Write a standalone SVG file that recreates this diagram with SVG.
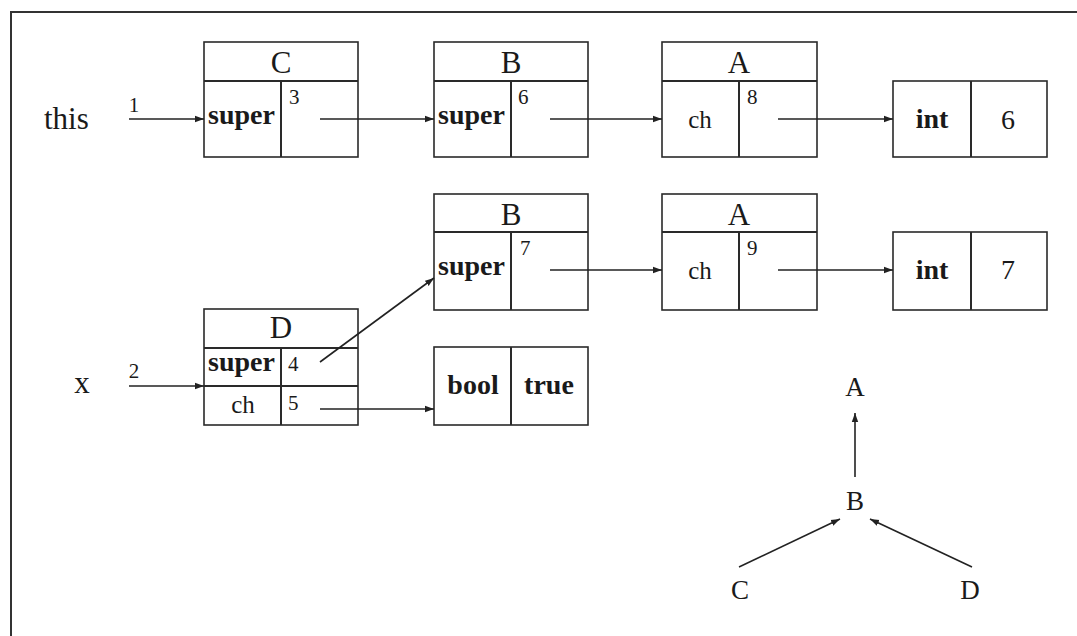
<svg xmlns="http://www.w3.org/2000/svg" width="1077" height="636" viewBox="0 0 1077 636">
  <defs>
    <marker id="arrow" markerWidth="10" markerHeight="8" refX="9" refY="4" orient="auto" markerUnits="userSpaceOnUse">
      <path d="M0,0.8 L9,4 L0,7.2 Z" fill="#222"/>
    </marker>
    <style>
      .box { fill: #fff; stroke: #2a2a2a; stroke-width: 1.6; }
      .div { stroke: #2a2a2a; stroke-width: 2; fill: none; }
      .txt { font-family: "Liberation Serif", "DejaVu Serif", serif; fill: #1a1a1a; }
      .big { font-size: 31px; }
      .tree { font-size: 27px; }
      .bold { font-size: 28px; font-weight: bold; }
      .val { font-size: 28px; }
      .num { font-size: 21px; }
      .reg { font-size: 25px; }
      .mid { text-anchor: middle; }
      .edge { stroke: #222; stroke-width: 1.6; fill: none; marker-end: url(#arrow); }
      .frame { stroke: #333; stroke-width: 2; fill: none; }
    </style>
  </defs>

  <rect width="1077" height="636" fill="#fff"/>

  <!-- frame: top and left rules only -->
  <path class="frame" d="M11,636 L11,12 L1077,12"/>

  <!-- variable labels -->
  <g id="var-this">
    <text class="txt big" x="44" y="129">this</text>
    <text class="txt num mid" x="134" y="112">1</text>
  </g>
  <g id="var-x">
    <text class="txt big mid" x="82" y="393">x</text>
    <text class="txt num mid" x="134" y="378">2</text>
  </g>

  <!-- object C -->
  <g id="obj-C">
    <rect class="box" x="204" y="42" width="154" height="115"/>
    <line class="div" x1="204" y1="81" x2="358" y2="81"/>
    <line class="div" x1="281" y1="81" x2="281" y2="157"/>
    <text class="txt big mid" x="281" y="73">C</text>
    <text class="txt bold" x="208" y="124">super</text>
    <text class="txt num" x="289" y="104">3</text>
  </g>

  <!-- object B (row 1) -->
  <g id="obj-B1">
    <rect class="box" x="434" y="42" width="154" height="115"/>
    <line class="div" x1="434" y1="81" x2="588" y2="81"/>
    <line class="div" x1="511" y1="81" x2="511" y2="157"/>
    <text class="txt big mid" x="511" y="73">B</text>
    <text class="txt bold" x="438" y="124">super</text>
    <text class="txt num" x="518" y="104">6</text>
  </g>

  <!-- object A (row 1) -->
  <g id="obj-A1">
    <rect class="box" x="662" y="42" width="155" height="115"/>
    <line class="div" x1="662" y1="81" x2="817" y2="81"/>
    <line class="div" x1="739" y1="81" x2="739" y2="157"/>
    <text class="txt big mid" x="739" y="73">A</text>
    <text class="txt reg mid" x="700" y="128">ch</text>
    <text class="txt num" x="747" y="104">8</text>
  </g>

  <!-- int 6 -->
  <g id="val-int6">
    <rect class="box" x="893" y="81" width="154" height="76"/>
    <line class="div" x1="971" y1="81" x2="971" y2="157"/>
    <text class="txt bold mid" x="932" y="128">int</text>
    <text class="txt val mid" x="1008" y="129">6</text>
  </g>

  <!-- object B (row 2) -->
  <g id="obj-B2">
    <rect class="box" x="434" y="194" width="154" height="116"/>
    <line class="div" x1="434" y1="232" x2="588" y2="232"/>
    <line class="div" x1="511" y1="232" x2="511" y2="310"/>
    <text class="txt big mid" x="511" y="225">B</text>
    <text class="txt bold" x="438" y="275">super</text>
    <text class="txt num" x="520" y="255">7</text>
  </g>

  <!-- object A (row 2) -->
  <g id="obj-A2">
    <rect class="box" x="662" y="194" width="155" height="116"/>
    <line class="div" x1="662" y1="232" x2="817" y2="232"/>
    <line class="div" x1="739" y1="232" x2="739" y2="310"/>
    <text class="txt big mid" x="739" y="225">A</text>
    <text class="txt reg mid" x="700" y="279">ch</text>
    <text class="txt num" x="747" y="255">9</text>
  </g>

  <!-- int 7 -->
  <g id="val-int7">
    <rect class="box" x="893" y="232" width="154" height="78"/>
    <line class="div" x1="971" y1="232" x2="971" y2="310"/>
    <text class="txt bold mid" x="932" y="279">int</text>
    <text class="txt val mid" x="1008" y="279">7</text>
  </g>

  <!-- object D -->
  <g id="obj-D">
    <rect class="box" x="204" y="309" width="154" height="116"/>
    <line class="div" x1="204" y1="348" x2="358" y2="348"/>
    <line class="div" x1="204" y1="386" x2="358" y2="386"/>
    <line class="div" x1="281" y1="348" x2="281" y2="425"/>
    <text class="txt big mid" x="281" y="338">D</text>
    <text class="txt bold" x="208" y="371">super</text>
    <text class="txt num" x="288" y="371">4</text>
    <text class="txt reg mid" x="243" y="413">ch</text>
    <text class="txt num" x="288" y="410">5</text>
  </g>

  <!-- bool true -->
  <g id="val-bool">
    <rect class="box" x="434" y="347" width="154" height="78"/>
    <line class="div" x1="511" y1="347" x2="511" y2="425"/>
    <text class="txt bold mid" x="473" y="394">bool</text>
    <text class="txt bold mid" x="549" y="394">true</text>
  </g>

  <!-- class hierarchy -->
  <g id="tree-A"><text class="txt tree mid" x="855" y="396">A</text></g>
  <g id="tree-B"><text class="txt tree mid" x="855" y="510">B</text></g>
  <g id="tree-C"><text class="txt tree mid" x="740" y="599">C</text></g>
  <g id="tree-D"><text class="txt tree mid" x="970" y="599">D</text></g>

  <!-- connectors -->
  <g id="connectors">
    <line class="edge" x1="129" y1="119" x2="204" y2="119"/>
    <line class="edge" x1="320" y1="119" x2="434" y2="119"/>
    <line class="edge" x1="550" y1="119" x2="662" y2="119"/>
    <line class="edge" x1="778" y1="119" x2="893" y2="119"/>
    <line class="edge" x1="129" y1="386" x2="204" y2="386"/>
    <line class="edge" x1="320" y1="362" x2="434" y2="278"/>
    <line class="edge" x1="320" y1="409" x2="434" y2="409"/>
    <line class="edge" x1="550" y1="270" x2="662" y2="270"/>
    <line class="edge" x1="778" y1="270" x2="893" y2="270"/>
    <line class="edge" x1="855" y1="477" x2="855" y2="413"/>
    <line class="edge" x1="739" y1="567" x2="840" y2="519"/>
    <line class="edge" x1="972" y1="567" x2="870" y2="519"/>
  </g>
</svg>
